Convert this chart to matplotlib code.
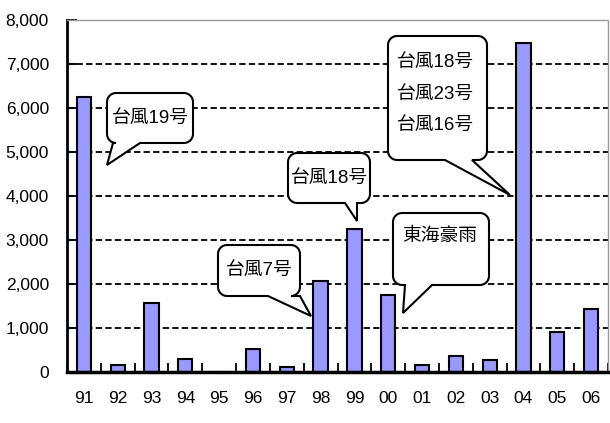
import numpy as np
import matplotlib
matplotlib.use("Agg")
import matplotlib.pyplot as plt
from matplotlib.path import Path
from matplotlib.patches import PathPatch
from matplotlib.ticker import FuncFormatter

# ---- data ----
years = ["91", "92", "93", "94", "95", "96", "97", "98", "99", "00",
         "01", "02", "03", "04", "05", "06"]
values = [6257, 159, 1576, 303, 0, 523, 114, 2075, 3250, 1740,
          150, 364, 265, 7477, 916, 1425]
yticks = [0, 1000, 2000, 3000, 4000, 5000, 6000, 7000, 8000]

callout_texts = ["台風19号", "台風7号", "台風18号", "東海豪雨", "台風18号\n台風23号\n台風16号"]

FONT = ["Liberation Sans", "Noto Sans CJK JP", "DejaVu Sans"]
plt.rcParams["font.family"] = FONT

W, H = 610, 423
fig = plt.figure(figsize=(W / 100, H / 100), dpi=100)
L, R, B, T = 67, 608, 372, 20
ax = fig.add_axes([L / W, (H - B) / H, (R - L) / W, (B - T) / H])

x = np.arange(len(years))
ax.bar(x, values, width=0.42, color="#9999FF", edgecolor="black", linewidth=1.5, zorder=3)

ax.set_xlim(-0.5, len(years) - 0.5)
ax.set_ylim(0, 8000)
ax.set_yticks(yticks)
ax.yaxis.set_major_formatter(FuncFormatter(lambda v, p: f"{int(v):,}"))
ax.set_xticks(x)
ax.set_xticklabels(years)
ax.set_xticks(np.arange(-0.5, len(years), 1.0), minor=True)

ax.tick_params(axis="x", which="major", length=0, pad=14, labelsize=12.5)
ax.tick_params(axis="x", which="minor", direction="in", length=6.5, width=1.3, color="black")
ax.tick_params(axis="y", which="major", direction="in", length=7, width=1.3, pad=13, labelsize=12.5)

for yv in yticks[1:-1]:
    ax.axhline(yv, color="black", linestyle=(0, (3.5, 1.8)), linewidth=1.3, zorder=1)

ax.spines["left"].set_linewidth(2)
ax.spines["bottom"].set_linewidth(2.5)
ax.spines["bottom"].set_zorder(5)
for s in ("top", "right"):
    ax.spines[s].set_color("#999999")
    ax.spines[s].set_linestyle((0, (1, 1)))
    ax.spines[s].set_linewidth(1)

# ---- callouts ----
def to_data(px, py):
    return (px - L) / (R - L) * len(years) - 0.5, (B - py) / (B - T) * 8000

def callout(box, base, tip, text, ha="center", top_pad=8):
    x0, y0, x1, y1 = box
    r = 9
    pts = []
    def arc(cx, cy, a0, a1):
        for a in np.linspace(a0, a1, 8):
            pts.append((cx + r * np.cos(a), cy + r * np.sin(a)))
    arc(x0 + r, y0 + r, np.pi, 1.5 * np.pi)
    arc(x1 - r, y0 + r, 1.5 * np.pi, 2 * np.pi)
    arc(x1 - r, y1 - r, 0, 0.5 * np.pi)
    xa, xb = base
    pts.append((max(xa, xb), y1))
    pts.append(tip)
    pts.append((min(xa, xb), y1))
    arc(x0 + r, y1 - r, 0.5 * np.pi, np.pi)
    pts.append(pts[0])
    dpts = [to_data(px, py) for px, py in pts]
    codes = [Path.MOVETO] + [Path.LINETO] * (len(dpts) - 2) + [Path.CLOSEPOLY]
    patch = PathPatch(Path(dpts, codes), facecolor="white", edgecolor="black",
                      linewidth=1.5, zorder=6, transform=ax.transData, clip_on=False)
    ax.add_patch(patch)
    if ha == "center":
        tx, ty = to_data((x0 + x1) / 2, (y0 + y1) / 2)
        ax.text(tx, ty, text, ha="center", va="center", fontsize=13.5, zorder=7,
                family=FONT, linespacing=1.4)
    else:
        tx, ty = to_data(x0 + 9, y0 + top_pad)
        ax.text(tx, ty, text, ha="left", va="top", fontsize=13.5, zorder=7,
                family=FONT, linespacing=2.12)

callout((107, 93, 193, 143), (113, 140), (107, 165), callout_texts[0])
callout((218, 245, 300, 296), (268, 300), (311, 316), callout_texts[1])
callout((288, 153, 370, 203), (345, 357), (357, 221), callout_texts[2])
callout((393, 213, 489, 285), (405, 432), (403, 313), callout_texts[3], ha="left", top_pad=15)
callout((388, 36, 487, 160), (445, 472), (510, 195), callout_texts[4], ha="left", top_pad=18)

fig.savefig("out.png", dpi=100)
